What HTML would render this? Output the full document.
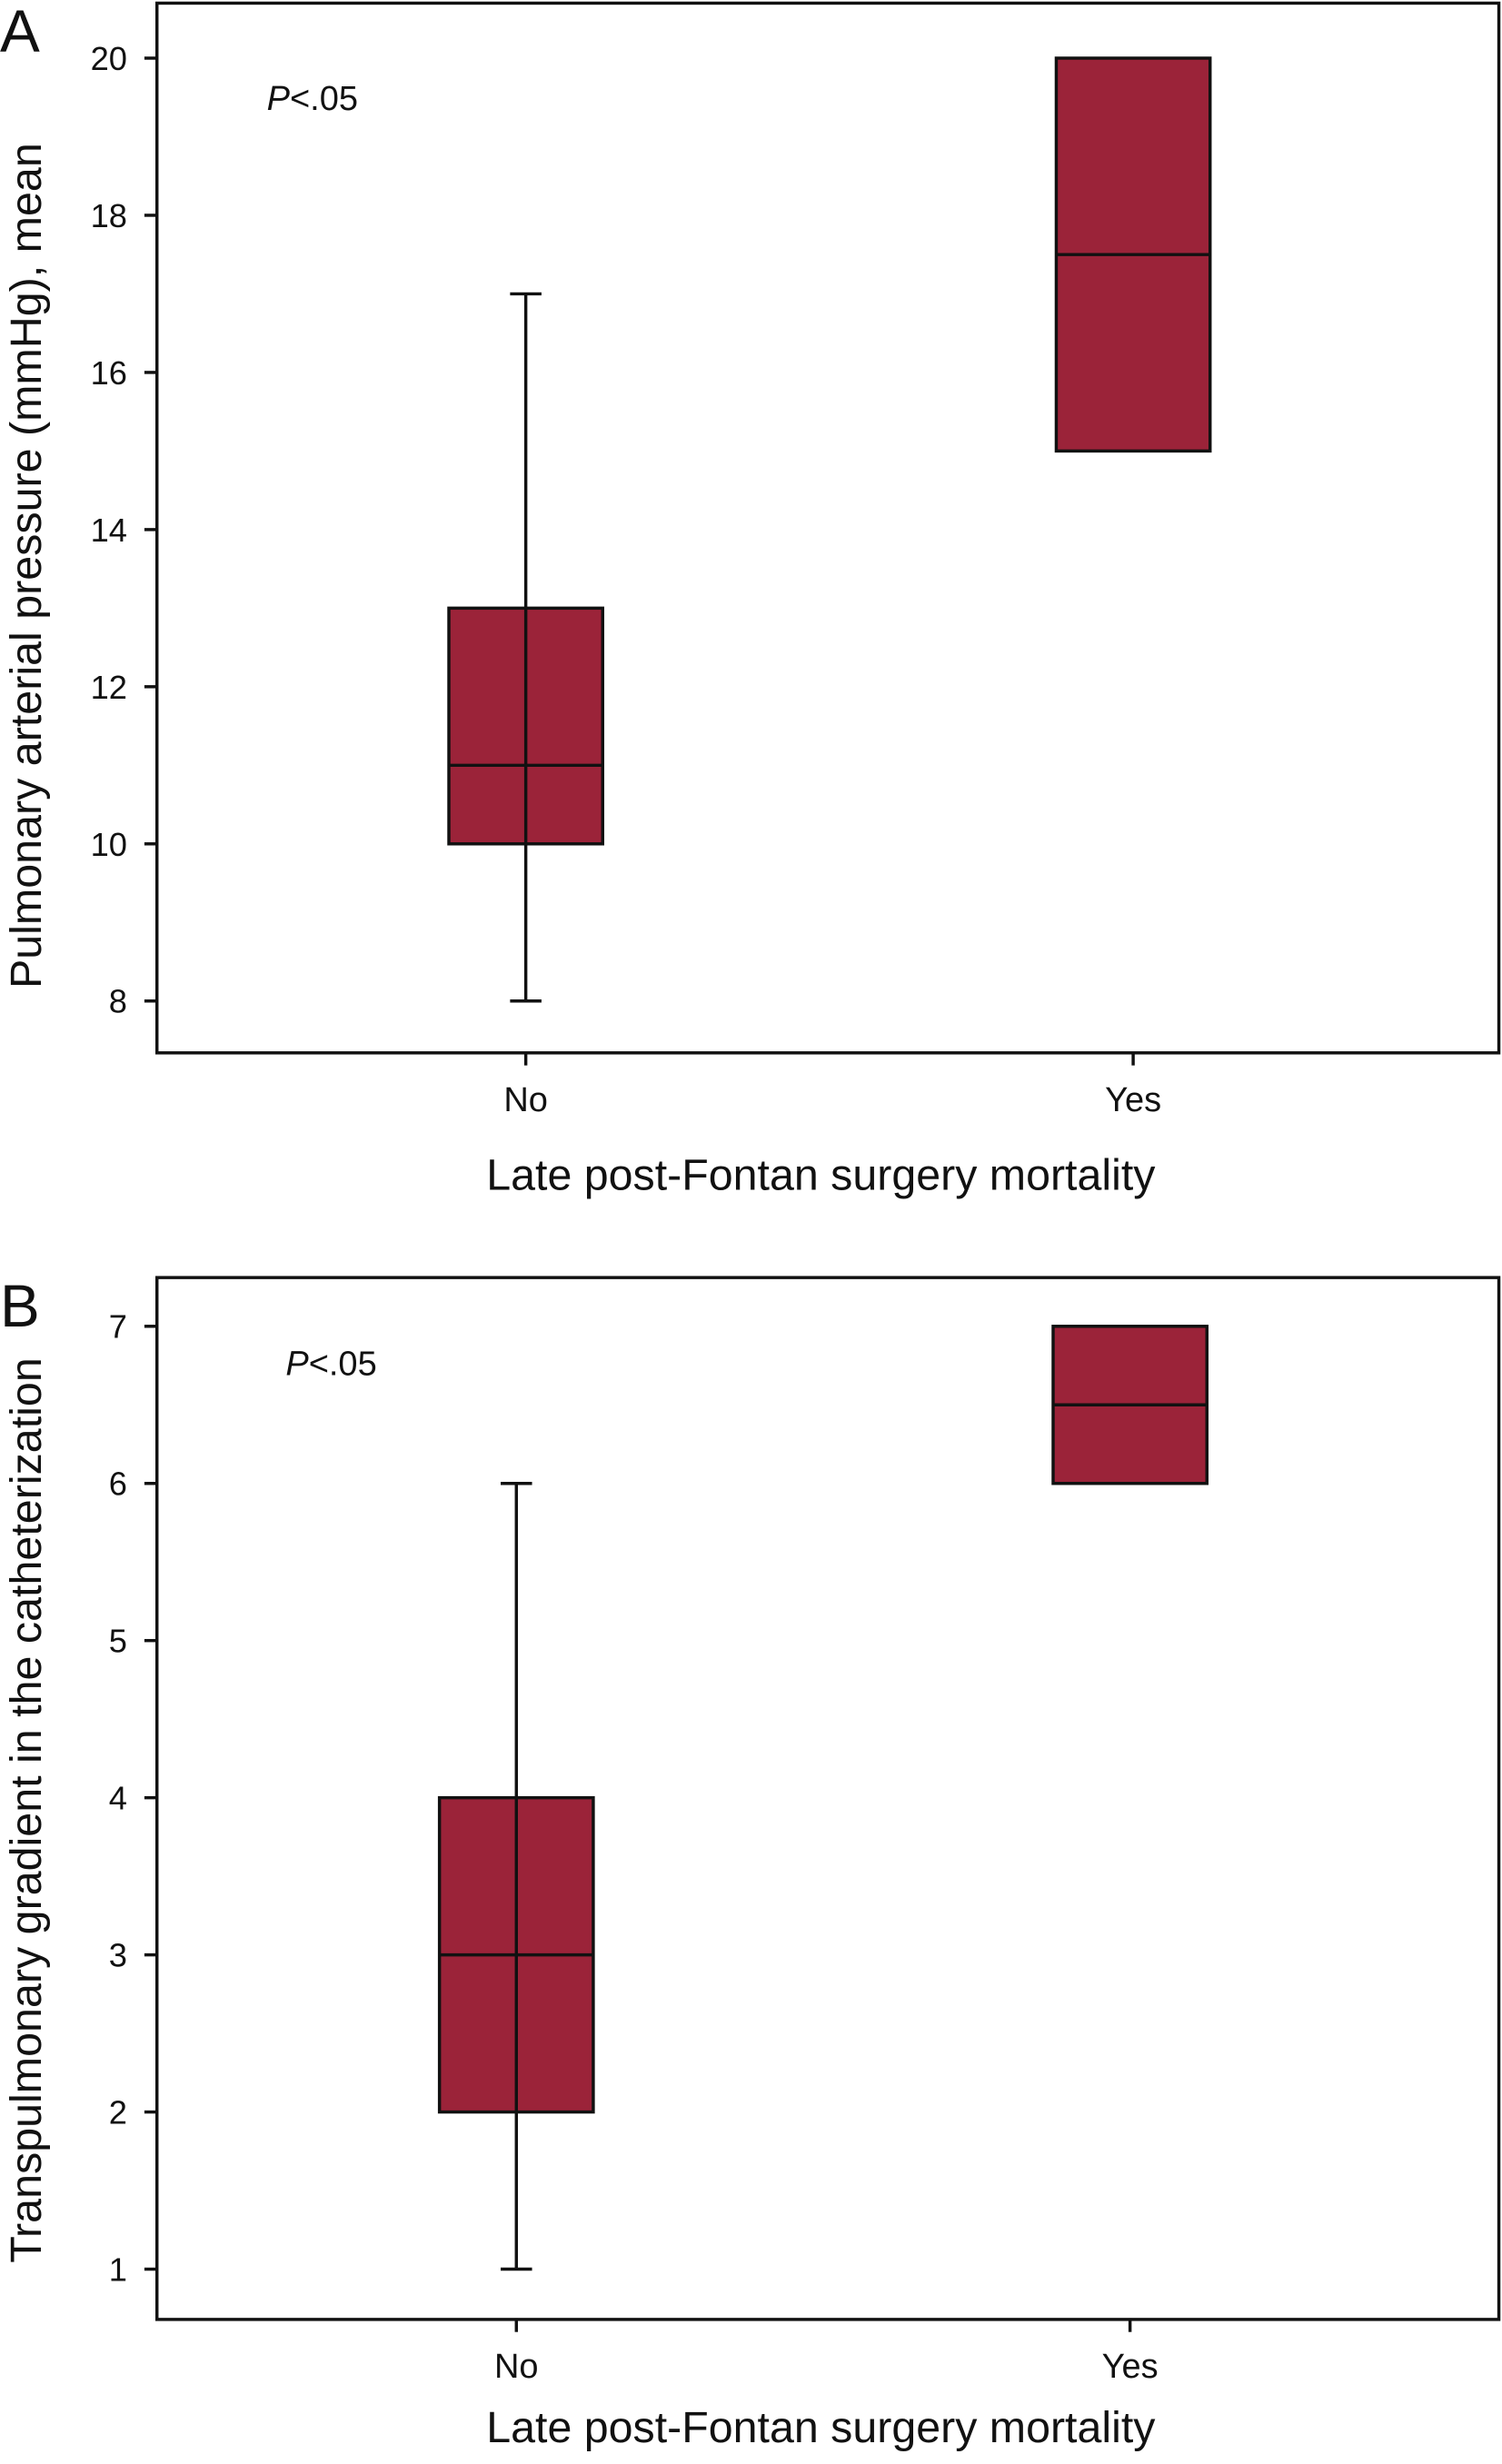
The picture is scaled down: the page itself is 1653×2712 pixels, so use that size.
<!DOCTYPE html>
<html><head><meta charset="utf-8"><style>
html,body{margin:0;padding:0;background:#fff;}
svg{display:block;}
text{font-family:"Liberation Sans",sans-serif;fill:#111;}
</style></head><body>
<svg id="fig" width="1653" height="2712" viewBox="0 0 957 1568" preserveAspectRatio="none" xmlns="http://www.w3.org/2000/svg"></svg>
<script>
// Panel A data
const catsA = ["No", "Yes"];
const q1A = [10, 15];
const medA = [11, 17.5];
const q3A = [13, 20];
const minA = [8, null];
const maxA = [17, null];
const ticksA = [8, 10, 12, 14, 16, 18, 20];
// Panel B data
const catsB = ["No", "Yes"];
const q1B = [2, 6];
const medB = [3, 6.5];
const q3B = [4, 7];
const minB = [1, null];
const maxB = [6, null];
const ticksB = [1, 2, 3, 4, 5, 6, 7];

const NS = "http://www.w3.org/2000/svg";
const svg = document.getElementById('fig');
function mk(tag, attrs, parent){
  const e = document.createElementNS(NS, tag);
  for (const k in attrs) e.setAttribute(k, attrs[k]);
  (parent||svg).appendChild(e);
  return e;
}
function panel(o){
  const g = mk('g', {});
  
  
  const y = v => o.y0 - (v - o.v0) * o.ppu;
  const x = i => o.cx[i];
  const frame = mk('rect', {x:o.L, y:o.T, width:o.R-o.L, height:o.B-o.T, fill:'none', stroke:'#111', 'stroke-width':2}, g);
  
  
  o.ticks.forEach(t => {
    const l = mk('line', {x1:o.L-8, x2:o.L, y1:y(t), y2:y(t), stroke:'#111', 'stroke-width':2}, g);
    
    
    const tx = mk('text', {x:o.L-19, y:y(t)+7.5, 'text-anchor':'end', 'font-size':21}, g);
    tx.textContent = t;
    
    
  });
  o.cats.forEach((c, i) => {
    const l = mk('line', {x1:x(i), x2:x(i), y1:o.B, y2:o.B+8, stroke:'#111', 'stroke-width':2}, g);
    
    
    const tx = mk('text', {x:x(i), y:o.B+37, 'text-anchor':'middle', 'font-size':22}, g);
    tx.textContent = c;
    
    
    const hw = 49;
    if (o.mn[i] !== null) {
      const w = mk('line', {x1:x(i), x2:x(i), y1:y(o.mn[i]), y2:y(o.mx[i]), stroke:'#111', 'stroke-width':2}, g);
      
      
      [o.mn[i], o.mx[i]].forEach(v => {
        const cap = mk('line', {x1:x(i)-10, x2:x(i)+10, y1:y(v), y2:y(v), stroke:'#111', 'stroke-width':2}, g);
        
        
      });
    }
    const b = mk('rect', {x:x(i)-hw, y:y(o.q3[i]), width:2*hw, height:y(o.q1[i])-y(o.q3[i]), fill:'#9b2339', stroke:'#111', 'stroke-width':2}, g);
    
    
    if (o.mn[i] !== null) {
      const w2 = mk('line', {x1:x(i), x2:x(i), y1:y(o.q1[i]), y2:y(o.q3[i]), stroke:'#111', 'stroke-width':2}, g);
      
      
    }
    const m = mk('line', {x1:x(i)-hw, x2:x(i)+hw, y1:y(o.md[i]), y2:y(o.md[i]), stroke:'#111', 'stroke-width':2}, g);
    
    
  });
  const xt = mk('text', {x:523, y:o.xtY, 'text-anchor':'middle', 'font-size':28}, g);
  xt.textContent = 'Late post-Fontan surgery mortality';
  
  
  const yt = mk('text', {x:0, y:0, 'text-anchor':'middle', 'font-size':28, transform:'translate(26,' + o.ytY + ') rotate(-90)'}, g);
  yt.textContent = o.ytitle;
  
  
  const pl = mk('text', {x:o.px, y:o.py, 'font-size':22}, g);
  pl.innerHTML = '<tspan font-style="italic">P</tspan>&lt;.05';
  
  
  const lb = mk('text', {x:0, y:o.T+31, 'font-size':38}, g);
  lb.textContent = o.label;
  
  
}
panel({name:'panel-a', L:100, T:2, R:955, B:670, y0:637, v0:8, ppu:50, cx:[335,722],
  cats:catsA, q1:q1A, md:medA, q3:q3A, mn:minA, mx:maxA, ticks:ticksA,
  ytitle:'Pulmonary arterial pressure (mmHg), mean', ytY:360, px:170, py:70, label:'A', xtY:757});
panel({name:'panel-b', L:100, T:813, R:955, B:1476, y0:1444, v0:1, ppu:100, cx:[329,720],
  cats:catsB, q1:q1B, md:medB, q3:q3B, mn:minB, mx:maxB, ticks:ticksB,
  ytitle:'Transpulmonary gradient in the catheterization', ytY:1152, px:182, py:875, label:'B', xtY:1554});
</script>
</body></html>
